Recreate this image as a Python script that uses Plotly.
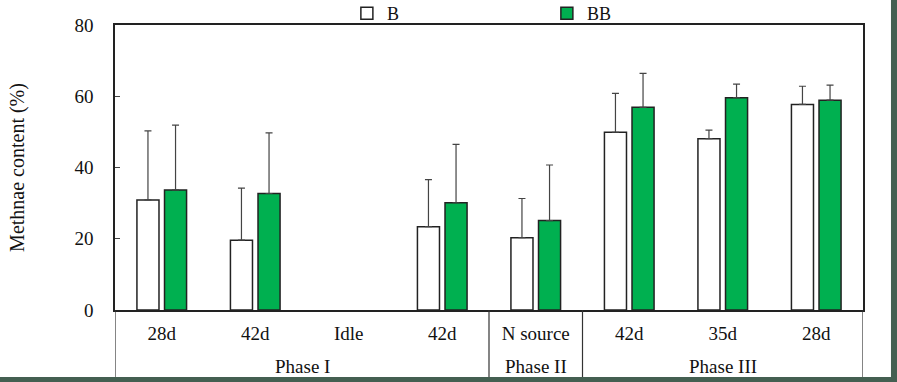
import plotly.graph_objects as go

phases = ["Phase I", "Phase I", "Phase I", "Phase I", "Phase II", "Phase III", "Phase III", "Phase III"]
periods = ["28d", "42d", "Idle", "42d", "N source", "42d", "35d", "28d"]

b_vals = [30.9, 19.6, None, 23.4, 20.3, 49.9, 48.1, 57.7]
b_err = [19.4, 14.6, None, 13.2, 11.0, 10.9, 2.4, 5.1]
bb_vals = [33.7, 32.7, None, 30.1, 25.1, 56.9, 59.6, 58.9]
bb_err = [18.2, 17.0, None, 16.4, 15.6, 9.5, 3.8, 4.2]
zeros = [0] * len(periods)

font_family = "Liberation Serif"
fs = 19
xpos = list(range(len(periods)))

fig = go.Figure()
fig.add_trace(go.Bar(
    name="B", x=xpos, y=b_vals,
    marker=dict(color="white", line=dict(color="#222222", width=1.5)),
    error_y=dict(type="data", array=b_err, arrayminus=zeros, symmetric=False,
                 color="#444444", thickness=1.2, width=3.5),
))
fig.add_trace(go.Bar(
    name="BB", x=xpos, y=bb_vals,
    marker=dict(color="#00b050", line=dict(color="#222222", width=1.5)),
    error_y=dict(type="data", array=bb_err, arrayminus=zeros, symmetric=False,
                 color="#444444", thickness=1.2, width=3.5),
))

# phase groups
groups = []
for i, p in enumerate(phases):
    if groups and groups[-1][0] == p:
        groups[-1][2] = i
    else:
        groups.append([p, i, i])

shapes = []
annotations = []
for name, i0, i1 in groups:
    annotations.append(dict(x=(i0 + i1) / 2, y=-0.198, xref="x", yref="paper", text=name,
                            showarrow=False, yanchor="middle",
                            font=dict(family=font_family, size=fs, color="#111111")))
bounds = sorted(set([g[1] - 0.5 for g in groups] + [g[2] + 0.5 for g in groups]))
for b in bounds:
    shapes.append(dict(type="line", xref="x", yref="paper", x0=b, x1=b, y0=0, y1=-0.236,
                       line=dict(color="#333333", width=1.2)))

shapes += [
    dict(type="rect", xref="paper", yref="paper", x0=1.0374, x1=1.06, y0=-0.3, y1=1.2,
         fillcolor="#445f51", line=dict(width=0), layer="above"),
    dict(type="rect", xref="paper", yref="paper", x0=-0.2, x1=1.06, y0=-0.2351, y1=-0.3,
         fillcolor="#445f51", line=dict(width=0), layer="above"),
]

fig.update_layout(
    width=897, height=382,
    margin=dict(l=115, r=34, t=25, b=72, autoexpand=False),
    paper_bgcolor="white", plot_bgcolor="white",
    font=dict(family=font_family, size=fs, color="#111111"),
    barmode="group", bargap=0.41, bargroupgap=0.2,
    showlegend=True,
    legend=dict(orientation="h", x=0.31, y=0.975, xanchor="left", yanchor="bottom",
                entrywidth=155, entrywidthmode="pixels", itemwidth=30,
                font=dict(family=font_family, size=18), bgcolor="rgba(0,0,0,0)"),
    xaxis=dict(range=[-0.5, len(periods) - 0.5], tickmode="array", tickvals=xpos,
               ticktext=periods, showline=True, linecolor="#222222", linewidth=1.5,
               mirror=True, ticks="", showgrid=False, zeroline=False,
               ticklabelstandoff=5,
               tickfont=dict(family=font_family, size=fs)),
    yaxis=dict(range=[0, 80], dtick=20, showline=True, linecolor="#222222", linewidth=1.5,
               mirror=True, ticks="inside", ticklen=5, tickcolor="#444444",
               showgrid=False, zeroline=False, ticklabelstandoff=16,
               tickfont=dict(family=font_family, size=fs),
               title=dict(text="Methnae content (%)", standoff=44,
                          font=dict(family=font_family, size=20))),
    shapes=shapes,
    annotations=annotations,
)

fig.write_html("out.html", config={"displayModeBar": False},
               post_script="document.body.style.margin='0';")
